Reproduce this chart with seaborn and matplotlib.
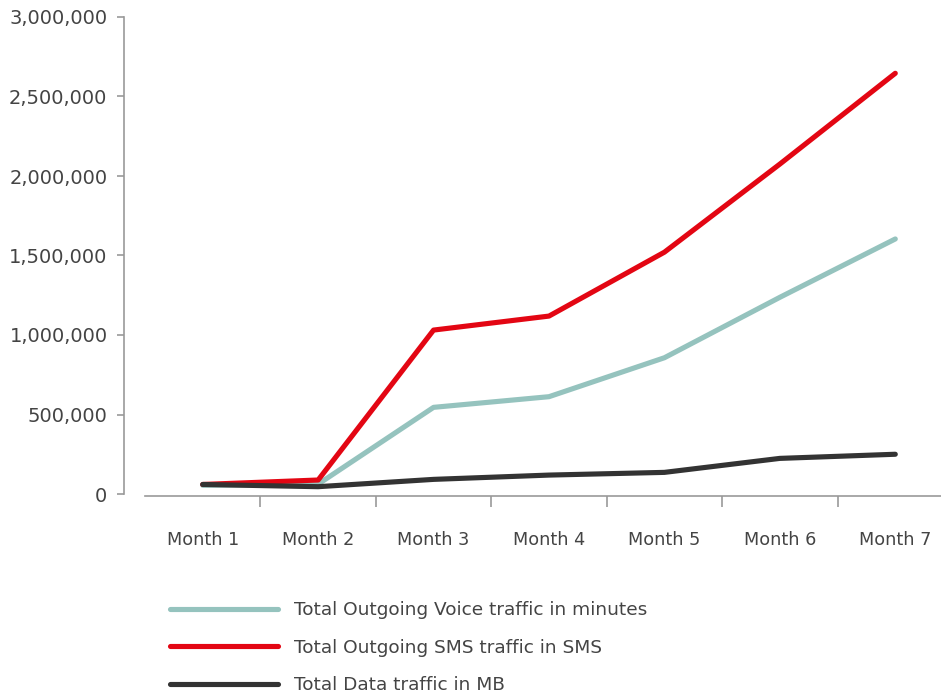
import matplotlib
matplotlib.use("Agg")
import matplotlib.pyplot as plt
import seaborn as sns
import pandas as pd
from matplotlib.ticker import FuncFormatter, FixedLocator

months = ["Month 1", "Month 2", "Month 3", "Month 4", "Month 5", "Month 6", "Month 7"]
voice = [55000, 62000, 545000, 612000, 857000, 1237000, 1604000]
sms = [60000, 88000, 1031000, 1119000, 1521000, 2075000, 2646000]
data_mb = [60000, 46000, 92000, 119000, 136000, 224000, 250000]
series_names = ["Total Outgoing Voice traffic in minutes",
                "Total Outgoing SMS traffic in SMS",
                "Total Data traffic in MB"]
colors = ["#95C3BE", "#E30613", "#333333"]

df = pd.concat([
    pd.DataFrame({"Month": months, "Value": vals, "Series": name})
    for name, vals in zip(series_names, [voice, sms, data_mb])
])

sns.set_style("white")
plt.rcParams["font.family"] = ["DejaVu Sans"]

W, H = 941, 696
fig = plt.figure(figsize=(W / 100, H / 100), dpi=100)
left_px, right_px, top_px, bot_px = 145, 953, 17, 494
ax = fig.add_axes([left_px / W, 1 - bot_px / H, (right_px - left_px) / W, (bot_px - top_px) / H])

sns.lineplot(data=df, x="Month", y="Value", hue="Series", palette=colors,
             hue_order=series_names, linewidth=3.7, ax=ax, legend=False,
             solid_capstyle="round")

ax.set_xlim(-0.5, 6.5)
ax.set_ylim(0, 3000000)
ax.set_yticks([0, 500000, 1000000, 1500000, 2000000, 2500000, 3000000])
ax.yaxis.set_major_formatter(FuncFormatter(lambda v, p: f"{int(v):,}"))
ax.set_xticks(range(len(months)))
ax.set_xticklabels(months)
ax.xaxis.set_minor_locator(FixedLocator([i + 0.5 for i in range(len(months) - 1)]))
ax.set_xlabel("")
ax.set_ylabel("")

sns.despine(ax=ax, offset={"left": 15, "bottom": 1.5})
for s in ["left", "bottom"]:
    ax.spines[s].set_color("#999999")
    ax.spines[s].set_linewidth(1.2)

ax.tick_params(axis="y", which="major", length=5, width=1.2, color="#999999",
               labelsize=14, labelcolor="#444444", pad=7, left=True)
ax.tick_params(axis="x", which="major", length=0, labelsize=12.7,
               labelcolor="#444444", pad=25)
ax.tick_params(axis="x", which="minor", length=8, width=1.2, color="#999999",
               bottom=True)

handles = [plt.Line2D([], [], color=c, linewidth=3.7, solid_capstyle="round") for c in colors]
fig.legend(handles, series_names, loc="upper left",
           bbox_to_anchor=(170 / W, 1 - 601 / H), frameon=False,
           fontsize=13.3, handlelength=5.85, handletextpad=0.87,
           labelspacing=1.06, borderpad=0, borderaxespad=0,
           labelcolor="#444444")

fig.savefig("out.png", dpi=100)
